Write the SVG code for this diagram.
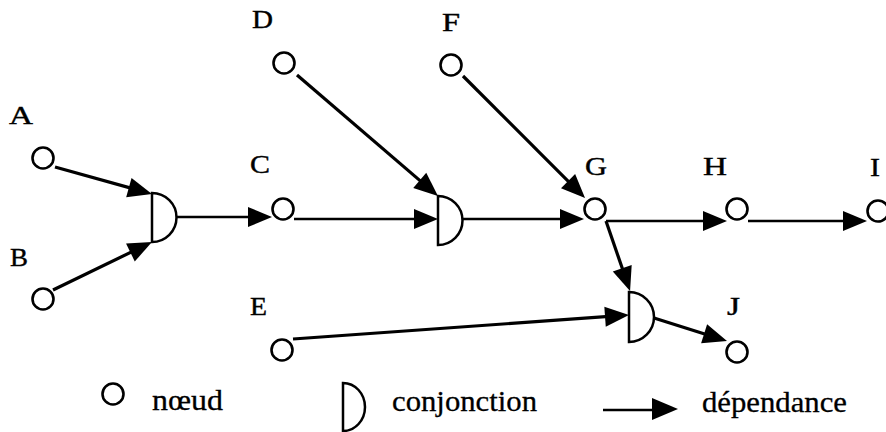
<svg xmlns="http://www.w3.org/2000/svg" width="886" height="432" viewBox="0 0 886 432">
<defs>
<marker id="ah" markerUnits="userSpaceOnUse" markerWidth="26" markerHeight="22" refX="18" refY="10" orient="auto" overflow="visible">
<path d="M0,0 L24,10 L0,20 z" fill="#000"/>
</marker>
<style>
.n{fill:#fff;stroke:#000;stroke-width:2.6}
.cj{fill:#fff;stroke:#000;stroke-width:2.5}
.e{fill:none;stroke:#000;stroke-width:3.2;marker-end:url(#ah)}
.h{stroke-width:2.6}
.lb{font-family:"Liberation Serif","Times New Roman",serif;font-size:25px;fill:#000;stroke:#000;stroke-width:0.4}
.lg{font-family:"Liberation Serif","Times New Roman",serif;font-size:30px;fill:#000;stroke:#000;stroke-width:0.3}
</style>
</defs>
<rect width="886" height="432" fill="#fff"/>
<g id="connectors">
<path class="e" d="M55,167 L146.2,192.4"/>
<path class="e" d="M53,290 L146.6,244.6"/>
<path class="e h" d="M177,217 L266,217"/>
<path class="e h" d="M294,219 L432,219"/>
<path class="e" d="M297,75 L433.4,192.1"/>
<path class="e h" d="M463,219 L578,219"/>
<path class="e" d="M463,76 L580.8,193.8"/>
<path class="e h" d="M606,221 L721,221"/>
<path class="e h" d="M748,221 L861,221"/>
<path class="e" d="M606,221 L628.1,285.3"/>
<path class="e" d="M293,339 L623,315.4"/>
<path class="e" d="M654,318 L721.3,339.2"/>
</g>
<g id="conj1"><path class="cj" d="M152,193 A24.5,24.5 0 0 1 152,242 Z"/></g>
<g id="conj2"><path class="cj" d="M438,196 A24.5,24.5 0 0 1 438,245 Z"/></g>
<g id="conj3"><path class="cj" d="M629,292 A25,25 0 0 1 629,342 Z"/></g>
<g id="A"><circle class="n" cx="43" cy="158" r="10.5"/><text class="lb" x="9" y="124" textLength="24" lengthAdjust="spacingAndGlyphs">A</text></g>
<g id="B"><circle class="n" cx="43" cy="299" r="10.5"/><text class="lb" x="10" y="266" textLength="18" lengthAdjust="spacingAndGlyphs">B</text></g>
<g id="C"><circle class="n" cx="283" cy="209" r="10.5"/><text class="lb" x="250" y="173" textLength="20" lengthAdjust="spacingAndGlyphs">C</text></g>
<g id="D"><circle class="n" cx="284" cy="63" r="10.5"/><text class="lb" x="252" y="28" textLength="21" lengthAdjust="spacingAndGlyphs">D</text></g>
<g id="E"><circle class="n" cx="282" cy="350" r="10.5"/><text class="lb" x="250" y="315" textLength="17" lengthAdjust="spacingAndGlyphs">E</text></g>
<g id="F"><circle class="n" cx="451" cy="65" r="10.5"/><text class="lb" x="442" y="31" textLength="18" lengthAdjust="spacingAndGlyphs">F</text></g>
<g id="G"><circle class="n" cx="595" cy="209" r="10.5"/><text class="lb" x="585" y="175" textLength="22" lengthAdjust="spacingAndGlyphs">G</text></g>
<g id="H"><circle class="n" cx="737" cy="209" r="10.5"/><text class="lb" x="703" y="175" textLength="24" lengthAdjust="spacingAndGlyphs">H</text></g>
<g id="I"><circle class="n" cx="878" cy="211" r="10.5"/><text class="lb" x="870" y="176" textLength="10" lengthAdjust="spacingAndGlyphs">I</text></g>
<g id="J"><circle class="n" cx="737" cy="352" r="10.5"/><text class="lb" x="727" y="315" textLength="13" lengthAdjust="spacingAndGlyphs">J</text></g>
<g id="legend">
<circle class="n" cx="113" cy="394" r="10.5"/>
<text class="lg" x="152" y="410" textLength="71" lengthAdjust="spacingAndGlyphs">nœud</text>
<path class="cj" d="M343,383 A22,24 0 0 1 343,431 Z"/>
<text class="lg" x="392" y="411" textLength="145" lengthAdjust="spacingAndGlyphs">conjonction</text>
<path d="M603,410 L656,410" stroke="#000" stroke-width="2.5" fill="none"/>
<path d="M652,398 L678,409 L652,420 z" fill="#000"/>
<text class="lg" x="702" y="412" textLength="145" lengthAdjust="spacingAndGlyphs">dépendance</text>
</g>
</svg>
